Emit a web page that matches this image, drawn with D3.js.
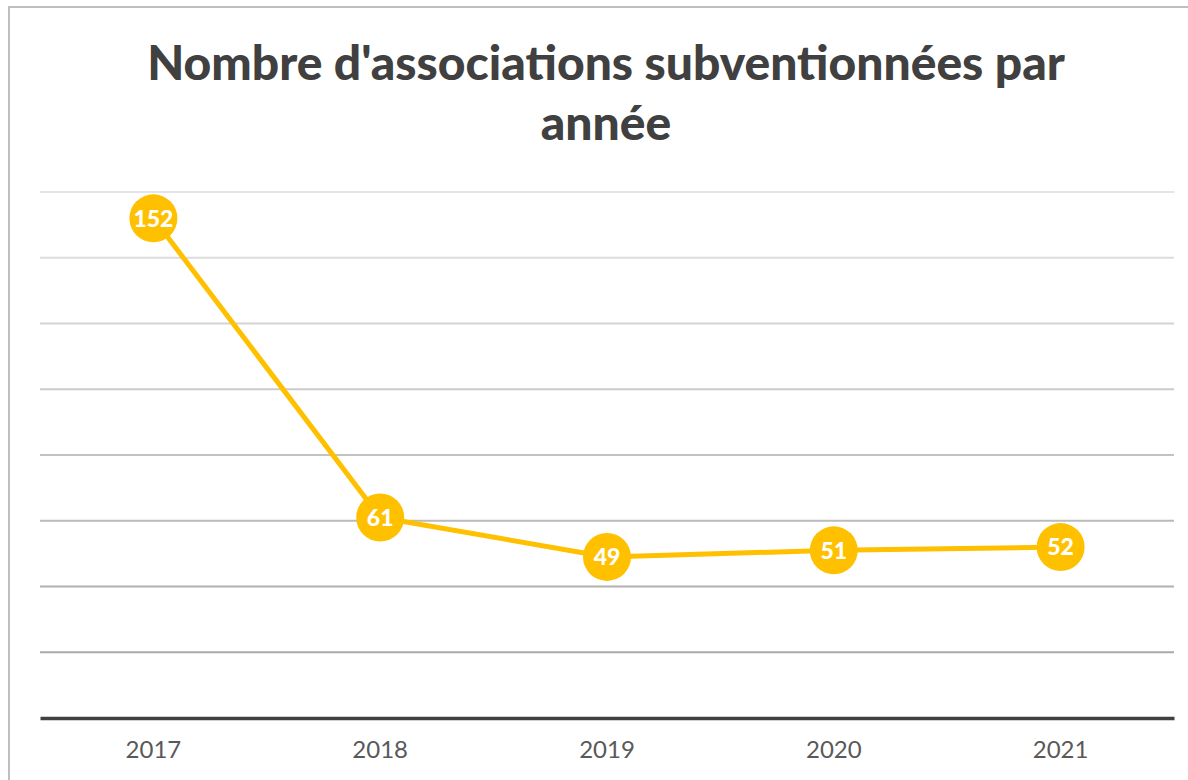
<!DOCTYPE html>
<html>
<head>
<meta charset="utf-8">
<script src="https://cdn.jsdelivr.net/npm/d3@7"></script>
<style>
  body { margin: 0; background: #fff; }
  svg { display: block; }
</style>
</head>
<body>
<div id="chart"></div>
<script>
var years = ['2017', '2018', '2019', '2020', '2021'];
var counts = [152, 61, 49, 51, 52];
var yTicks = [20, 40, 60, 80, 100, 120, 140, 160];
var titleLines = ["Nombre d'associations subventionnées par", 'année'];

var width = 1188, height = 780;
var margin = { top: 192, left: 40, right: 14, bottom: 62 };
var innerW = width - margin.left - margin.right;
var innerH = height - margin.top - margin.bottom;

var svg = d3.select('#chart').append('svg')
  .attr('width', width)
  .attr('height', height);

// outer frame
svg.append('rect')
  .attr('x', 9).attr('y', 7)
  .attr('width', 1190).attr('height', 800)
  .attr('fill', 'none')
  .attr('stroke', '#bfbfbf')
  .attr('stroke-width', 2);

svg.selectAll('.title')
  .data(titleLines)
.enter()
  .append('text')
  .attr('class', 'title')
  .attr('x', 606)
  .attr('y', function (d, i) { return 80 + i * 60; })
  .attr('text-anchor', 'middle')
  .attr('font-family', 'Lato, "Open Sans", sans-serif')
  .attr('font-weight', 900)
  .attr('font-size', 48)
  .attr('fill', '#404040')
  .text(function (d) { return d; });

var g = svg.append('g')
  .attr('transform', 'translate(' + margin.left + ',' + margin.top + ')');

var x = d3.scaleBand().domain(years).range([0, innerW]);
var y = d3.scaleLinear().domain([0, 160]).range([innerH, 0]);

// gridlines, lighter toward the top
var shade = d3.scaleLinear().domain([20, 160]).range(['#a9a9a9', '#e4e4e4']);
g.selectAll('.grid')
  .data(yTicks)
.enter()
  .append('line')
  .attr('class', 'grid')
  .attr('x1', 0).attr('x2', innerW)
  .attr('y1', function (d) { return y(d); })
  .attr('y2', function (d) { return y(d); })
  .attr('stroke', function (d) { return shade(d); })
  .attr('stroke-width', 2);

// x axis
var xAxis = g.append('g')
  .attr('transform', 'translate(0,' + innerH + ')')
  .call(d3.axisBottom(x).tickSize(0).tickPadding(23));
xAxis.select('.domain')
  .attr('stroke', '#404040')
  .attr('stroke-width', 3.5);
xAxis.selectAll('text')
  .attr('font-family', 'Lato, "Open Sans", sans-serif')
  .attr('font-size', 24)
  .attr('fill', '#595959');

var cx = function (d, i) { return x(years[i]) + x.bandwidth() / 2; };

var line = d3.line()
  .x(cx)
  .y(function (d) { return y(d); });

g.append('path')
  .datum(counts)
  .attr('d', line)
  .attr('fill', 'none')
  .attr('stroke', '#ffc000')
  .attr('stroke-width', 5)
  .attr('stroke-linejoin', 'round');

var pts = g.selectAll('.pt')
  .data(counts)
.enter()
  .append('g')
  .attr('class', 'pt')
  .attr('transform', function (d, i) { return 'translate(' + cx(d, i) + ',' + y(d) + ')'; });

pts.append('circle')
  .attr('r', 24)
  .attr('fill', '#ffc000');

pts.append('text')
  .attr('text-anchor', 'middle')
  .attr('dy', '0.36em')
  .attr('font-family', 'Lato, "Open Sans", sans-serif')
  .attr('font-weight', 900)
  .attr('font-size', 23)
  .attr('fill', '#fff')
  .text(function (d) { return d; });
</script>
</body>
</html>
